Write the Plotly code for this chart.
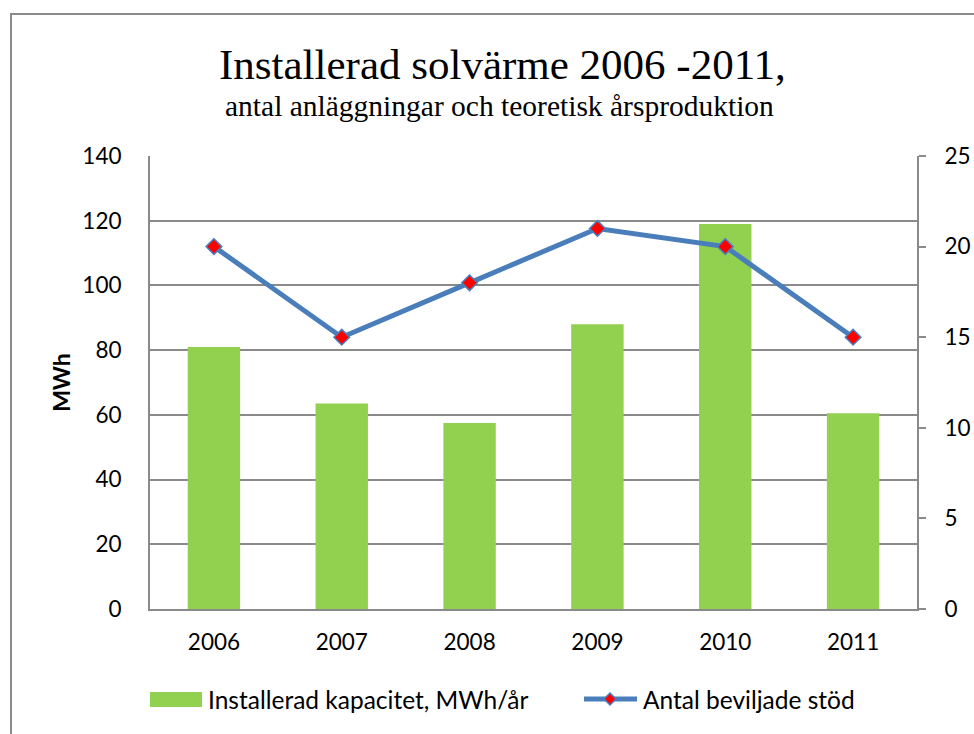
import plotly.graph_objects as go

years = ["2006", "2007", "2008", "2009", "2010", "2011"]
kapacitet = [81, 63.5, 57.5, 88, 119, 60.5]
antal = [20, 15, 18, 21, 20, 15]

bar_name = "Installerad kapacitet, MWh/år"
line_name = "Antal beviljade stöd"
title_text = "Installerad solvärme 2006 -2011,"
subtitle_text = "antal anläggningar och teoretisk årsproduktion"

GRAY = "#8a8a8a"
GREEN = "#92D050"
BLUE = "#4A7EBB"
RED = "#FF0000"
FONT = "Lato"

fig = go.Figure()
fig.add_trace(go.Bar(
    x=years, y=kapacitet, name=bar_name,
    marker=dict(color=GREEN, line=dict(width=0)),
    yaxis="y",
))
fig.add_trace(go.Scatter(
    x=years, y=antal, name=line_name, mode="lines+markers",
    line=dict(color=BLUE, width=5),
    marker=dict(symbol="diamond", size=12, color=RED,
                line=dict(color=BLUE, width=1.5)),
    yaxis="y2",
))

W, H = 974, 734
L, R, T, B = 150, 57, 156, 125
pw, ph = W - L - R, H - T - B


def px(x):
    return (x - L) / pw


def py(y):
    return (H - B - y) / ph


# manual legend (Excel-style wide swatch)
ly = 699
d = 6
legend_shapes = [
    dict(type="rect", xref="paper", yref="paper",
         x0=px(150), x1=px(202), y0=py(707), y1=py(692),
         line=dict(width=0), fillcolor=GREEN),
    dict(type="line", xref="paper", yref="paper",
         x0=px(584), x1=px(637), y0=py(ly), y1=py(ly),
         line=dict(color=BLUE, width=5)),
    dict(type="path", xref="paper", yref="paper",
         path=(f"M {px(610 - d)},{py(ly)} L {px(610)},{py(ly - d)} "
               f"L {px(610 + d)},{py(ly)} L {px(610)},{py(ly + d)} Z"),
         line=dict(color=BLUE, width=1.5), fillcolor=RED),
]

fig.update_layout(
    width=W, height=H,
    margin=dict(l=L, r=R, t=T, b=B, autoexpand=False),
    paper_bgcolor="white", plot_bgcolor="white",
    font=dict(family=FONT, size=22, color="black"),
    bargap=0.59,
    showlegend=False,
    xaxis=dict(
        showline=True, linecolor=GRAY, linewidth=2, mirror=False,
        ticks="", ticklabelstandoff=12, tickfont=dict(size=22.5),
        showgrid=False, automargin=False,
    ),
    yaxis=dict(
        range=[0, 140], dtick=20, showline=True, linecolor=GRAY, linewidth=2,
        showgrid=True, gridcolor=GRAY, gridwidth=1.5, zeroline=False,
        ticks="", ticklabelstandoff=22, tickfont=dict(size=22.5),
        title=dict(text="<b>MWh</b>", font=dict(size=23), standoff=5),
        automargin=False,
    ),
    yaxis2=dict(
        range=[0, 25], dtick=5, overlaying="y", side="right",
        showline=True, linecolor=GRAY, linewidth=2, showgrid=False,
        zeroline=False, ticks="outside", ticklen=7, tickcolor=GRAY,
        tickwidth=2, ticklabelstandoff=14, tickfont=dict(size=22.5),
        automargin=False,
    ),
    annotations=[
        dict(text=title_text, x=px(502), y=py(64),
             xref="paper", yref="paper", showarrow=False,
             xanchor="center", yanchor="middle",
             font=dict(family="Liberation Serif", size=43)),
        dict(text=subtitle_text,
             x=px(499), y=py(106), xref="paper", yref="paper",
             showarrow=False, xanchor="center", yanchor="middle",
             font=dict(family="Liberation Serif", size=29.5)),
        dict(text=bar_name, x=px(206), y=py(ly), xref="paper", yref="paper",
             showarrow=False, xanchor="left", yanchor="middle",
             font=dict(family=FONT, size=24.5)),
        dict(text=line_name, x=px(641), y=py(ly), xref="paper", yref="paper",
             showarrow=False, xanchor="left", yanchor="middle",
             font=dict(family=FONT, size=24.5)),
    ],
    shapes=[
        dict(type="rect", xref="paper", yref="paper",
             x0=px(11), x1=px(1000), y0=py(760), y1=py(14),
             line=dict(color=GRAY, width=2), fillcolor="rgba(0,0,0,0)",
             layer="below"),
    ] + legend_shapes,
)

fig.write_html("out.html", config={"displayModeBar": False},
               post_script="document.body.style.margin='0';")
